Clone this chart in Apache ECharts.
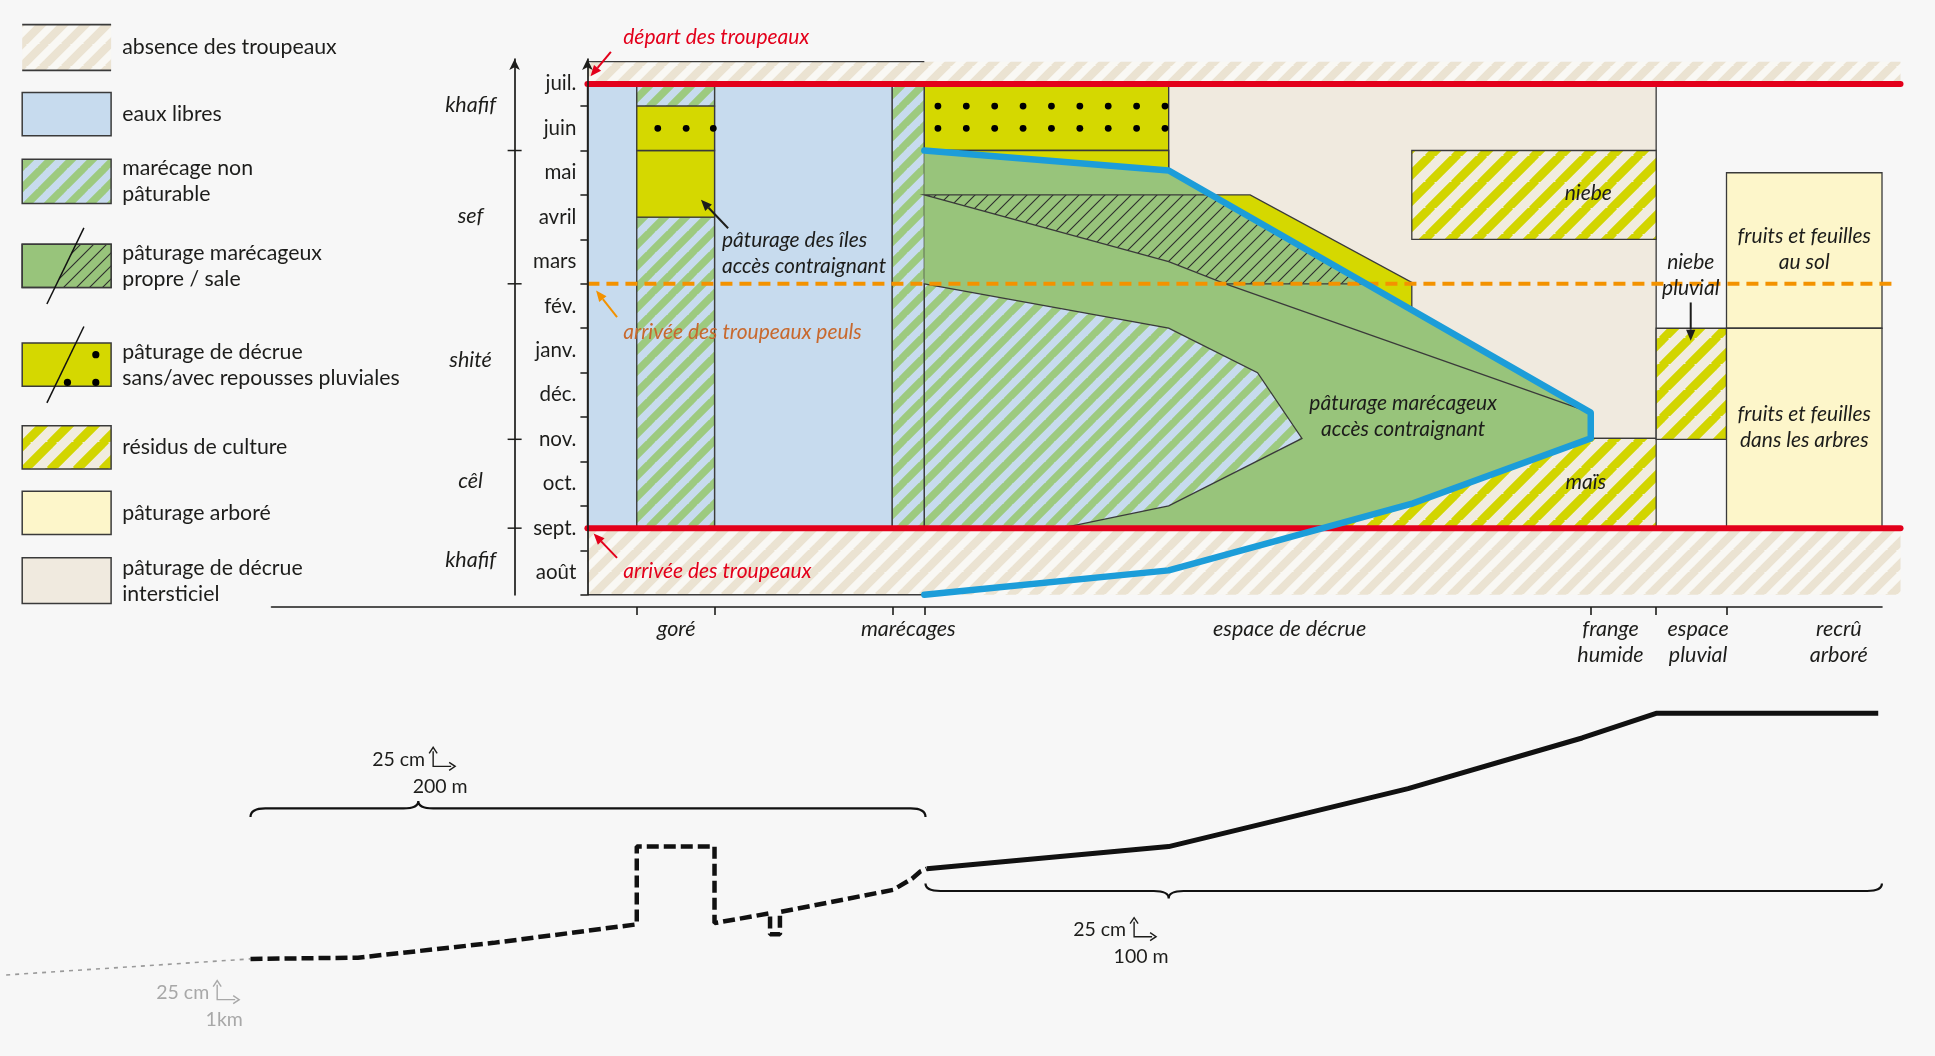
<!DOCTYPE html>
<html lang="fr">
<head>
<meta charset="utf-8">
<title>Calendrier pastoral</title>
<script src="https://cdn.jsdelivr.net/npm/echarts@6.0.0/dist/echarts.min.js"></script>
<style>
html,body{margin:0;padding:0;background:#f7f7f7;}
#chart{width:1935px;height:1056px;}
</style>
</head>
<body>
<div id="chart"></div>
<script>
// ================= DATA =================
// x = position along the transect (schematic units), y = months counted from 1 August
const MONTHS = ['août','sept.','oct.','nov.','déc.','janv.','fév.','mars','avril','mai','juin','juil.'];
const MONTH_TICKS = [0,1,2,3,4,5,6,7,8,9,10,11];
const MONTH_LABEL_AT = [0.5,1.5,2.5,3.5,4.5,5.5,6.5,7.5,8.5,9.5,10.5,11.5];
const SEASONS = ['khafif','cêl','shité','sef','khafif'];
const SEASON_LABEL_AT = [0.78,2.55,5.28,8.53,11.03];
const SEASON_BOUNDS = [1.5,3.5,7,10];
const SEASON_AXIS_X = -5.9;
const ZONES = ['goré','marécages','espace de décrue','frange\nhumide','espace\npluvial','recrû\narboré'];
const ZONE_LABEL_AT = [7.2,26.0,56.9,82.9,90.0,101.4];
const ZONE_BOUNDS = [4.0,10.3,24.7,27.3,81.3,86.6,92.3];

// herd calendar lines
const HERD_LINES_Y = [11.5, 1.5];          // départ / arrivée des troupeaux
const HERD_LINES_X = [0, 106.4];
const PEUL_ARRIVAL_Y = 7.0;                // arrivée des troupeaux peuls
const PEUL_LINE_X = [0, 105.9];

// rectangles: [x0, x1, y0, y1]
const ABSENCE = [[0,106.4,11.5,12.0],[0,106.4,0,1.5]];
const BAND_EDGES = [[[0,12.0],[27.3,12.0]],[[0,0],[27.3,0]]];
const OPEN_WATER = [[0,4.0,1.5,11.5],[10.3,24.7,1.5,11.5]];
const SWAMP_RECTS = [[4.0,10.3,11.0,11.5],[4.0,10.3,1.5,8.5],[24.7,27.3,1.5,11.5]];
const RECESSION_PLAIN = [[4.0,10.3,8.5,10.0]];
const RECESSION_DOTTED = [[4.0,10.3,10.0,11.0],[27.3,47.1,10.0,11.5]];
const INTERSTITIAL = [[47.1,86.6,3.52,11.5]];
const CROP_RESIDUE = [[66.8,86.6,8.0,10.0],[47.1,86.6,1.5,3.52],[86.6,92.3,3.5,6.0]];
const WOODED = [[92.3,104.9,6.0,9.5],[92.3,104.9,1.5,6.0]];

// polygons: [x, y] vertices
const MARSH_PASTURE = [[27.3,10.0],[47.1,9.55],[81.3,4.1],[81.3,3.52],[66.9,2.06],[59.6,1.5],[27.3,1.5]];
const RECESSION_POLYS = [
  [[27.3,10.0],[47.1,10.0],[47.1,9.55]],
  [[50.55,9.0],[53.7,9.0],[66.8,7.03],[66.8,6.41]]
];
const MARSH_DIRTY = [[27.3,9.0],[50.55,9.0],[63.1,7.0],[51.7,7.0],[47.1,7.5]];
const DIRTY_EDGE = [[51.7,7.0],[81.3,4.1]];
const SWAMP_POLY = [[27.3,7.0],[47.1,6.0],[54.3,5.0],[57.9,3.52],[47.1,2.0],[38.4,1.5],[27.3,1.5]];
const WATER_LIMIT = [[27.3,10.0],[47.1,9.55],[81.3,4.1],[81.3,3.52],[66.9,2.06],[47.1,0.55],[27.3,0.0]];

// rain-fed regrowth dots
const DOTS_GORE_X = [5.7,8.0,10.2];
const DOTS_GORE_Y = [10.5];
const DOTS_DECRUE_X = [28.4,30.7,33.0,35.3,37.6,39.9,42.2,44.5,46.8];
const DOTS_DECRUE_Y = [11.0,10.5];

// annotations
const NOTES = ['départ des troupeaux','arrivée des troupeaux peuls','arrivée des troupeaux',
  'pâturage des îles\naccès contraignant','pâturage marécageux\naccès contraignant','niebe','maïs',
  'niebe\npluvial','fruits et feuilles\nau sol','fruits et feuilles\ndans les arbres'];
const NOTE_AT = [[2.9,12.56],[2.9,5.92],[2.9,0.53],[10.9,7.68],[66.1,4.01],[81.1,9.03],[80.9,2.53],[89.4,7.2],[98.6,7.77],[98.6,3.77]];
const ARROW_FROM = [[1.9,12.22],[2.4,6.25],[2.4,0.83],[11.4,8.25],[89.4,6.58]];
const ARROW_TO = [[0.25,11.67],[0.7,6.85],[0.5,1.38],[9.2,8.89],[89.4,5.72]];

// topographic profile (x as above, y = relative elevation)
const PROFILE_DASHED = [[-27.3,7.3],[-18.6,7.4],[-7.6,8.6],[4.0,10.1],[4.0,16.4],[10.3,16.4],[10.3,10.2],
  [14.8,11.0],[14.8,9.3],[15.6,9.3],[15.6,11.1],[24.8,12.9],[26.3,13.8],[27.0,14.4],[27.5,14.6]];
const PROFILE_SOLID = [[27.5,14.6],[47.1,16.4],[66.5,21.1],[80.6,25.2],[86.6,27.2],[104.6,27.2]];
const PROFILE_FAR = [[-47.1,6.0],[-27.3,7.3]];
// braces: [x0, x1, xPeak, yEnd, yLine, yPeak]
const BRACES = [[-27.3,27.4,-13.7,18.8,19.5,20.1],[27.4,104.9,47.1,13.4,12.8,12.2]];
const SCALE_CORNER = [[-12.5,22.9],[44.3,9.1],[-30.0,4.0]];
const SCALE_V = ['25 cm','25 cm','25 cm'];
const SCALE_H = ['200 m','100 m','1km'];

const LEGEND_LABELS = ['absence des troupeaux','eaux libres','marécage non\npâturable',
  'pâturage marécageux\npropre / sale','pâturage de décrue\nsans/avec repousses pluviales',
  'résidus de culture','pâturage arboré','pâturage de décrue\nintersticiel'];

// ================= STYLE =================
const FONT = 'Lato, "Open Sans", "Noto Sans", sans-serif';
const INK = '#1d1d1b';
const C = {
  water:'#c7dbee', swampGreen:'#9dca7f', pasture:'#98c47b', yellow:'#d5d800', beige:'#f0eadf',
  resYellow:'#d2d500', resBg:'#f1ecdf', wooded:'#fdf6ca', absBg:'#f9f8f4', absStripe:'#ebe3d2',
  red:'#e3001b', blue:'#1c9dd9', orange:'#f39200', orangeText:'#c8692e', edge:'#3a3a3a'
};
const NOTE_COLOR = [C.red, C.orangeText, C.red, INK, INK, INK, INK, INK, INK, INK];
const NOTE_ALIGN = ['left','left','left','left','center','center','center','center','center','center'];
const ARROW_COLOR = [C.red, C.orange, C.red, INK, INK];
const SCALE_COLOR = [INK, INK, '#a8a8a8'];
const NOTE_SIZE = 21;

function stripePattern(bg, fg, period, band) {
  const c = document.createElement('canvas');
  c.width = c.height = period;
  const g = c.getContext('2d');
  g.fillStyle = bg; g.fillRect(0,0,period,period);
  g.strokeStyle = fg; g.lineWidth = band;
  for (const k of [-1,0,1]) {
    g.beginPath(); g.moveTo(k*period - 2, period + 2); g.lineTo(k*period + period + 2, -2); g.stroke();
  }
  return {image: c, repeat: 'repeat'};
}
const PAT = {
  absence: stripePattern(C.absBg, C.absStripe, 22, 8.2),
  swamp: stripePattern(C.water, C.swampGreen, 21, 7.4),
  residue: stripePattern(C.resBg, C.resYellow, 26, 8.8),
  dirty: stripePattern(C.pasture, '#2b2b2b', 13, 1.1)
};

function rectPts(r) { return [[r[0],r[2]],[r[1],r[2]],[r[1],r[3]],[r[0],r[3]]]; }
function withEdge(st) { return Object.assign({stroke: C.edge, lineWidth: 1.3}, st); }

function arrowEls(p0, p1, color, w, head) {
  const dx = p1[0]-p0[0], dy = p1[1]-p0[1], L = Math.hypot(dx,dy);
  const ux = dx/L, uy = dy/L, bx = p1[0]-ux*head, by = p1[1]-uy*head;
  const nx = -uy*head*0.42, ny = ux*head*0.42;
  return [
    {type:'line', shape:{x1:p0[0],y1:p0[1],x2:bx,y2:by}, style:{stroke:color, lineWidth:w}},
    {type:'polygon', shape:{points:[[p1[0],p1[1]],[bx+nx,by+ny],[bx-nx,by-ny]]}, style:{fill:color}}
  ];
}

function buildMain(api) {
  const k = [];
  const P = p => api.coord(p);
  const poly = (pts, st) => k.push({type:'polygon', shape:{points: pts.map(P)}, style: st});
  const pline = (pts, st) => k.push({type:'polyline', shape:{points: pts.map(P)}, style: Object.assign({fill:null}, st)});
  const thin = {stroke: C.edge, lineWidth: 1.3};

  ABSENCE.forEach(r => poly(rectPts(r), {fill: PAT.absence}));
  BAND_EDGES.forEach(e => pline(e, {stroke: C.edge, lineWidth: 1.4}));
  OPEN_WATER.forEach(r => poly(rectPts(r), withEdge({fill: C.water})));
  SWAMP_RECTS.forEach(r => poly(rectPts(r), withEdge({fill: PAT.swamp})));
  RECESSION_PLAIN.forEach(r => poly(rectPts(r), withEdge({fill: C.yellow})));
  RECESSION_DOTTED.forEach(r => poly(rectPts(r), withEdge({fill: C.yellow})));
  INTERSTITIAL.forEach(r => poly(rectPts(r), withEdge({fill: C.beige})));
  CROP_RESIDUE.forEach(r => poly(rectPts(r), withEdge({fill: PAT.residue})));
  WOODED.forEach(r => poly(rectPts(r), withEdge({fill: C.wooded})));
  poly(MARSH_PASTURE, {fill: C.pasture});
  RECESSION_POLYS.forEach(pts => poly(pts, withEdge({fill: C.yellow})));
  poly(MARSH_DIRTY, withEdge({fill: PAT.dirty}));
  pline(DIRTY_EDGE, thin);
  poly(SWAMP_POLY, withEdge({fill: PAT.swamp}));

  DOTS_GORE_Y.forEach(y => DOTS_GORE_X.forEach(x => {
    const p = P([x,y]); k.push({type:'circle', shape:{cx:p[0], cy:p[1], r:3.4}, style:{fill:'#000'}});
  }));
  DOTS_DECRUE_Y.forEach(y => DOTS_DECRUE_X.forEach(x => {
    const p = P([x,y]); k.push({type:'circle', shape:{cx:p[0], cy:p[1], r:3.4}, style:{fill:'#000'}});
  }));

  // orange dashed line
  pline([[PEUL_LINE_X[0], PEUL_ARRIVAL_Y],[PEUL_LINE_X[1], PEUL_ARRIVAL_Y]], {stroke: C.orange, lineWidth: 4, lineDash:[12,7]});
  // red lines
  HERD_LINES_Y.forEach(y => pline([[HERD_LINES_X[0], y],[HERD_LINES_X[1], y]], {stroke: C.red, lineWidth: 6, lineCap:'round'}));
  // water limit
  pline(WATER_LIMIT, {stroke: C.blue, lineWidth: 6.5, lineJoin:'round', lineCap:'round'});

  // season ticks
  SEASON_BOUNDS.forEach(b => {
    const p = P([SEASON_AXIS_X, b]);
    k.push({type:'line', shape:{x1:p[0]-7, y1:p[1], x2:p[0]+7, y2:p[1]}, style:{stroke: INK, lineWidth:1.5}});
  });

  ARROW_FROM.forEach((f, i) => arrowEls(P(f), P(ARROW_TO[i]), ARROW_COLOR[i], 2, 11).forEach(e => k.push(e)));

  NOTES.forEach((t, i) => {
    const p = P(NOTE_AT[i]);
    k.push({type:'text', x:p[0], y:p[1], style:{text:t, fill: NOTE_COLOR[i], fontFamily: FONT, fontSize: NOTE_SIZE,
      fontStyle:'italic', align: NOTE_ALIGN[i], verticalAlign:'middle', lineHeight: 26}});
  });
  return k;
}

function buildProfile(api) {
  const k = [];
  const P = p => api.coord(p);
  const s = p => p[0].toFixed(1) + ' ' + p[1].toFixed(1);
  BRACES.forEach(b => {
    const [x0,x1,xm,ye,yl,yp] = b, r = 1.2;
    const d = 'M' + s(P([x0,ye])) + ' Q' + s(P([x0,yl])) + ' ' + s(P([x0+r,yl])) +
      ' L' + s(P([xm-r,yl])) + ' Q' + s(P([xm,yl])) + ' ' + s(P([xm,yp])) +
      ' Q' + s(P([xm,yl])) + ' ' + s(P([xm+r,yl])) +
      ' L' + s(P([x1-r,yl])) + ' Q' + s(P([x1,yl])) + ' ' + s(P([x1,ye]));
    k.push({type:'path', shape:{pathData: d}, style:{fill:null, stroke:'#111', lineWidth:2.2}});
  });
  SCALE_CORNER.forEach((c, i) => {
    const p = P(c), col = SCALE_COLOR[i];
    const st = {fill:null, stroke: col, lineWidth: 1.4};
    k.push({type:'polyline', shape:{points:[[p[0],p[1]-15],[p[0],p[1]],[p[0]+18,p[1]]]}, style: st});
    k.push({type:'polyline', shape:{points:[[p[0]-4,p[1]-13],[p[0],p[1]-19],[p[0]+4,p[1]-13]]}, style: Object.assign({}, st)});
    k.push({type:'polyline', shape:{points:[[p[0]+16,p[1]-4],[p[0]+22,p[1]],[p[0]+16,p[1]+4]]}, style: Object.assign({}, st)});
    k.push({type:'text', x:p[0]-8, y:p[1]-7, style:{text: SCALE_V[i], fill: col, fontFamily: FONT, fontSize: 19.5,
      align:'right', verticalAlign:'middle'}});
    k.push({type:'text', x:p[0]+7, y:p[1]+20, style:{text: SCALE_H[i], fill: col, fontFamily: FONT, fontSize: 19.5,
      align:'center', verticalAlign:'middle'}});
  });
  return k;
}

const LEG_ROWS = [[24.7,70.3],[92.6,135.7],[159.2,203.6],[244.3,287.5],[343,386.3],[425.8,469],[491.2,534.4],[557.8,603.5]];
const LEG_X = 22.2, LEG_W = 88.9, LEG_TX = 122.2;
function legendElements() {
  const els = [];
  const edge = {stroke: C.edge, lineWidth: 1.5};
  const fills = [PAT.absence, C.water, PAT.swamp, C.pasture, C.yellow, PAT.residue, C.wooded, C.beige];
  LEG_ROWS.forEach((r, i) => {
    const [y0, y1] = r, h = y1 - y0;
    els.push({type:'rect', shape:{x:LEG_X, y:y0, width:LEG_W, height:h}, style: Object.assign({fill: fills[i]}, i === 0 ? {} : edge)});
    if (i === 0) {
      els.push({type:'line', shape:{x1:LEG_X, y1:y0, x2:LEG_X+LEG_W, y2:y0}, style:{stroke:C.edge, lineWidth:1.8}});
      els.push({type:'line', shape:{x1:LEG_X, y1:y1, x2:LEG_X+LEG_W, y2:y1}, style:{stroke:C.edge, lineWidth:1.8}});
    }
    if (i === 3 || i === 4) {
      const bx = LEG_X + 24.7, tx = LEG_X + 61.7, by = y1 + 16.5, ty = y0 - 16.5;
      const xAt = y => bx + (tx - bx) * (by - y) / (by - ty);
      if (i === 3) {
        els.push({type:'polygon', shape:{points:[[xAt(y0),y0],[LEG_X+LEG_W,y0],[LEG_X+LEG_W,y1],[xAt(y1),y1]]}, style:{fill: PAT.dirty}});
        els.push({type:'rect', shape:{x:LEG_X, y:y0, width:LEG_W, height:h}, style: Object.assign({fill:null}, edge)});
      } else {
        [[0.828,0.27],[0.509,0.91],[0.828,0.91]].forEach(d => els.push({type:'circle',
          shape:{cx:LEG_X + d[0]*LEG_W, cy:y0 + d[1]*h, r:3.6}, style:{fill:'#000'}}));
      }
      els.push({type:'line', shape:{x1:bx, y1:by, x2:tx, y2:ty}, style:{stroke:'#111', lineWidth:1.5}});
    }
    els.push({type:'text', x:LEG_TX, y:(y0+y1)/2, style:{text: LEGEND_LABELS[i], fill: INK, fontFamily: FONT,
      fontSize: 21.3, verticalAlign:'middle', lineHeight: 26}});
  });
  return els;
}

const nearest = (arr, v) => { let b = 0; arr.forEach((a, i) => { if (Math.abs(a - v) < Math.abs(arr[b] - v)) b = i; }); return b; };

const chart = echarts.init(document.getElementById('chart'), null, {renderer:'canvas'});
chart.setOption({
  backgroundColor: '#f7f7f7',
  animation: false,
  textStyle: {fontFamily: FONT},
  grid: [
    {left: 271.5, right: 53, top: 59.0, bottom: 461.2, containLabel: false, outerBoundsMode: 'none'},
    {left: 0, right: 0, top: 666.4, bottom: 7, containLabel: false, outerBoundsMode: 'none'}
  ],
  xAxis: [
    {gridIndex: 0, type: 'value', min: -25.6, max: 104.9, offset: 12.3,
      axisLine: {show: true, onZero: false, lineStyle: {color: INK, width: 1.6}},
      axisTick: {show: true, customValues: ZONE_BOUNDS, length: 8, lineStyle: {color: INK, width: 1.6}},
      axisLabel: {show: true, customValues: ZONE_LABEL_AT, margin: 9, color: INK, fontFamily: FONT, fontSize: 21.5,
        fontStyle: 'italic', lineHeight: 26, verticalAlign: 'top', align: 'center',
        formatter: v => ZONES[nearest(ZONE_LABEL_AT, v)]},
      splitLine: {show: false}},
    {gridIndex: 1, type: 'value', min: -47.6, max: 109.2, show: false}
  ],
  yAxis: [
    {gridIndex: 0, type: 'value', min: 0, max: 12.06, position: 'left', offset: -315.9, z: 20,
      axisLine: {show: true, onZero: false, symbol: ['none','arrow'], symbolSize: [8,11], lineStyle: {color: INK, width: 1.7}},
      axisTick: {show: true, customValues: MONTH_TICKS, length: 7, lineStyle: {color: INK, width: 1.5}},
      axisLabel: {show: true, customValues: MONTH_LABEL_AT, margin: 11, color: INK, fontFamily: FONT, fontSize: 20.5,
        formatter: v => MONTHS[nearest(MONTH_LABEL_AT, v)]},
      splitLine: {show: false}},
    {gridIndex: 0, type: 'value', min: 0, max: 12.06, position: 'left', offset: -243.1, z: 20,
      axisLine: {show: true, onZero: false, symbol: ['none','arrow'], symbolSize: [8,11], lineStyle: {color: INK, width: 1.7}},
      axisTick: {show: false},
      axisLabel: {show: true, customValues: SEASON_LABEL_AT, margin: 44, align: 'center', color: INK, fontFamily: FONT,
        fontSize: 21.5, fontStyle: 'italic', formatter: v => SEASONS[nearest(SEASON_LABEL_AT, v)]},
      splitLine: {show: false}},
    {gridIndex: 1, type: 'value', min: 0, max: 31, show: false}
  ],
  graphic: {elements: legendElements()},
  series: [
    {type: 'custom', xAxisIndex: 0, yAxisIndex: 0, clip: false, silent: true, animation: false, z: 2,
      data: [[0, 6]], renderItem: (p, api) => ({type: 'group', children: buildMain(api)})},
    {type: 'line', xAxisIndex: 1, yAxisIndex: 2, data: PROFILE_FAR, showSymbol: false, symbol: 'none', silent: true,
      lineStyle: {color: '#9a9a9a', width: 1.6, type: [4, 5]}},
    {type: 'line', xAxisIndex: 1, yAxisIndex: 2, data: PROFILE_DASHED, showSymbol: false, symbol: 'none', silent: true,
      lineStyle: {color: '#111', width: 4.5, type: [12, 5]}},
    {type: 'line', xAxisIndex: 1, yAxisIndex: 2, data: PROFILE_SOLID, showSymbol: false, symbol: 'none', silent: true,
      lineStyle: {color: '#111', width: 5}},
    {type: 'custom', xAxisIndex: 1, yAxisIndex: 2, clip: false, silent: true, animation: false,
      data: [[0, 10]], renderItem: (p, api) => ({type: 'group', children: buildProfile(api)})}
  ]
});
</script>
</body>
</html>
